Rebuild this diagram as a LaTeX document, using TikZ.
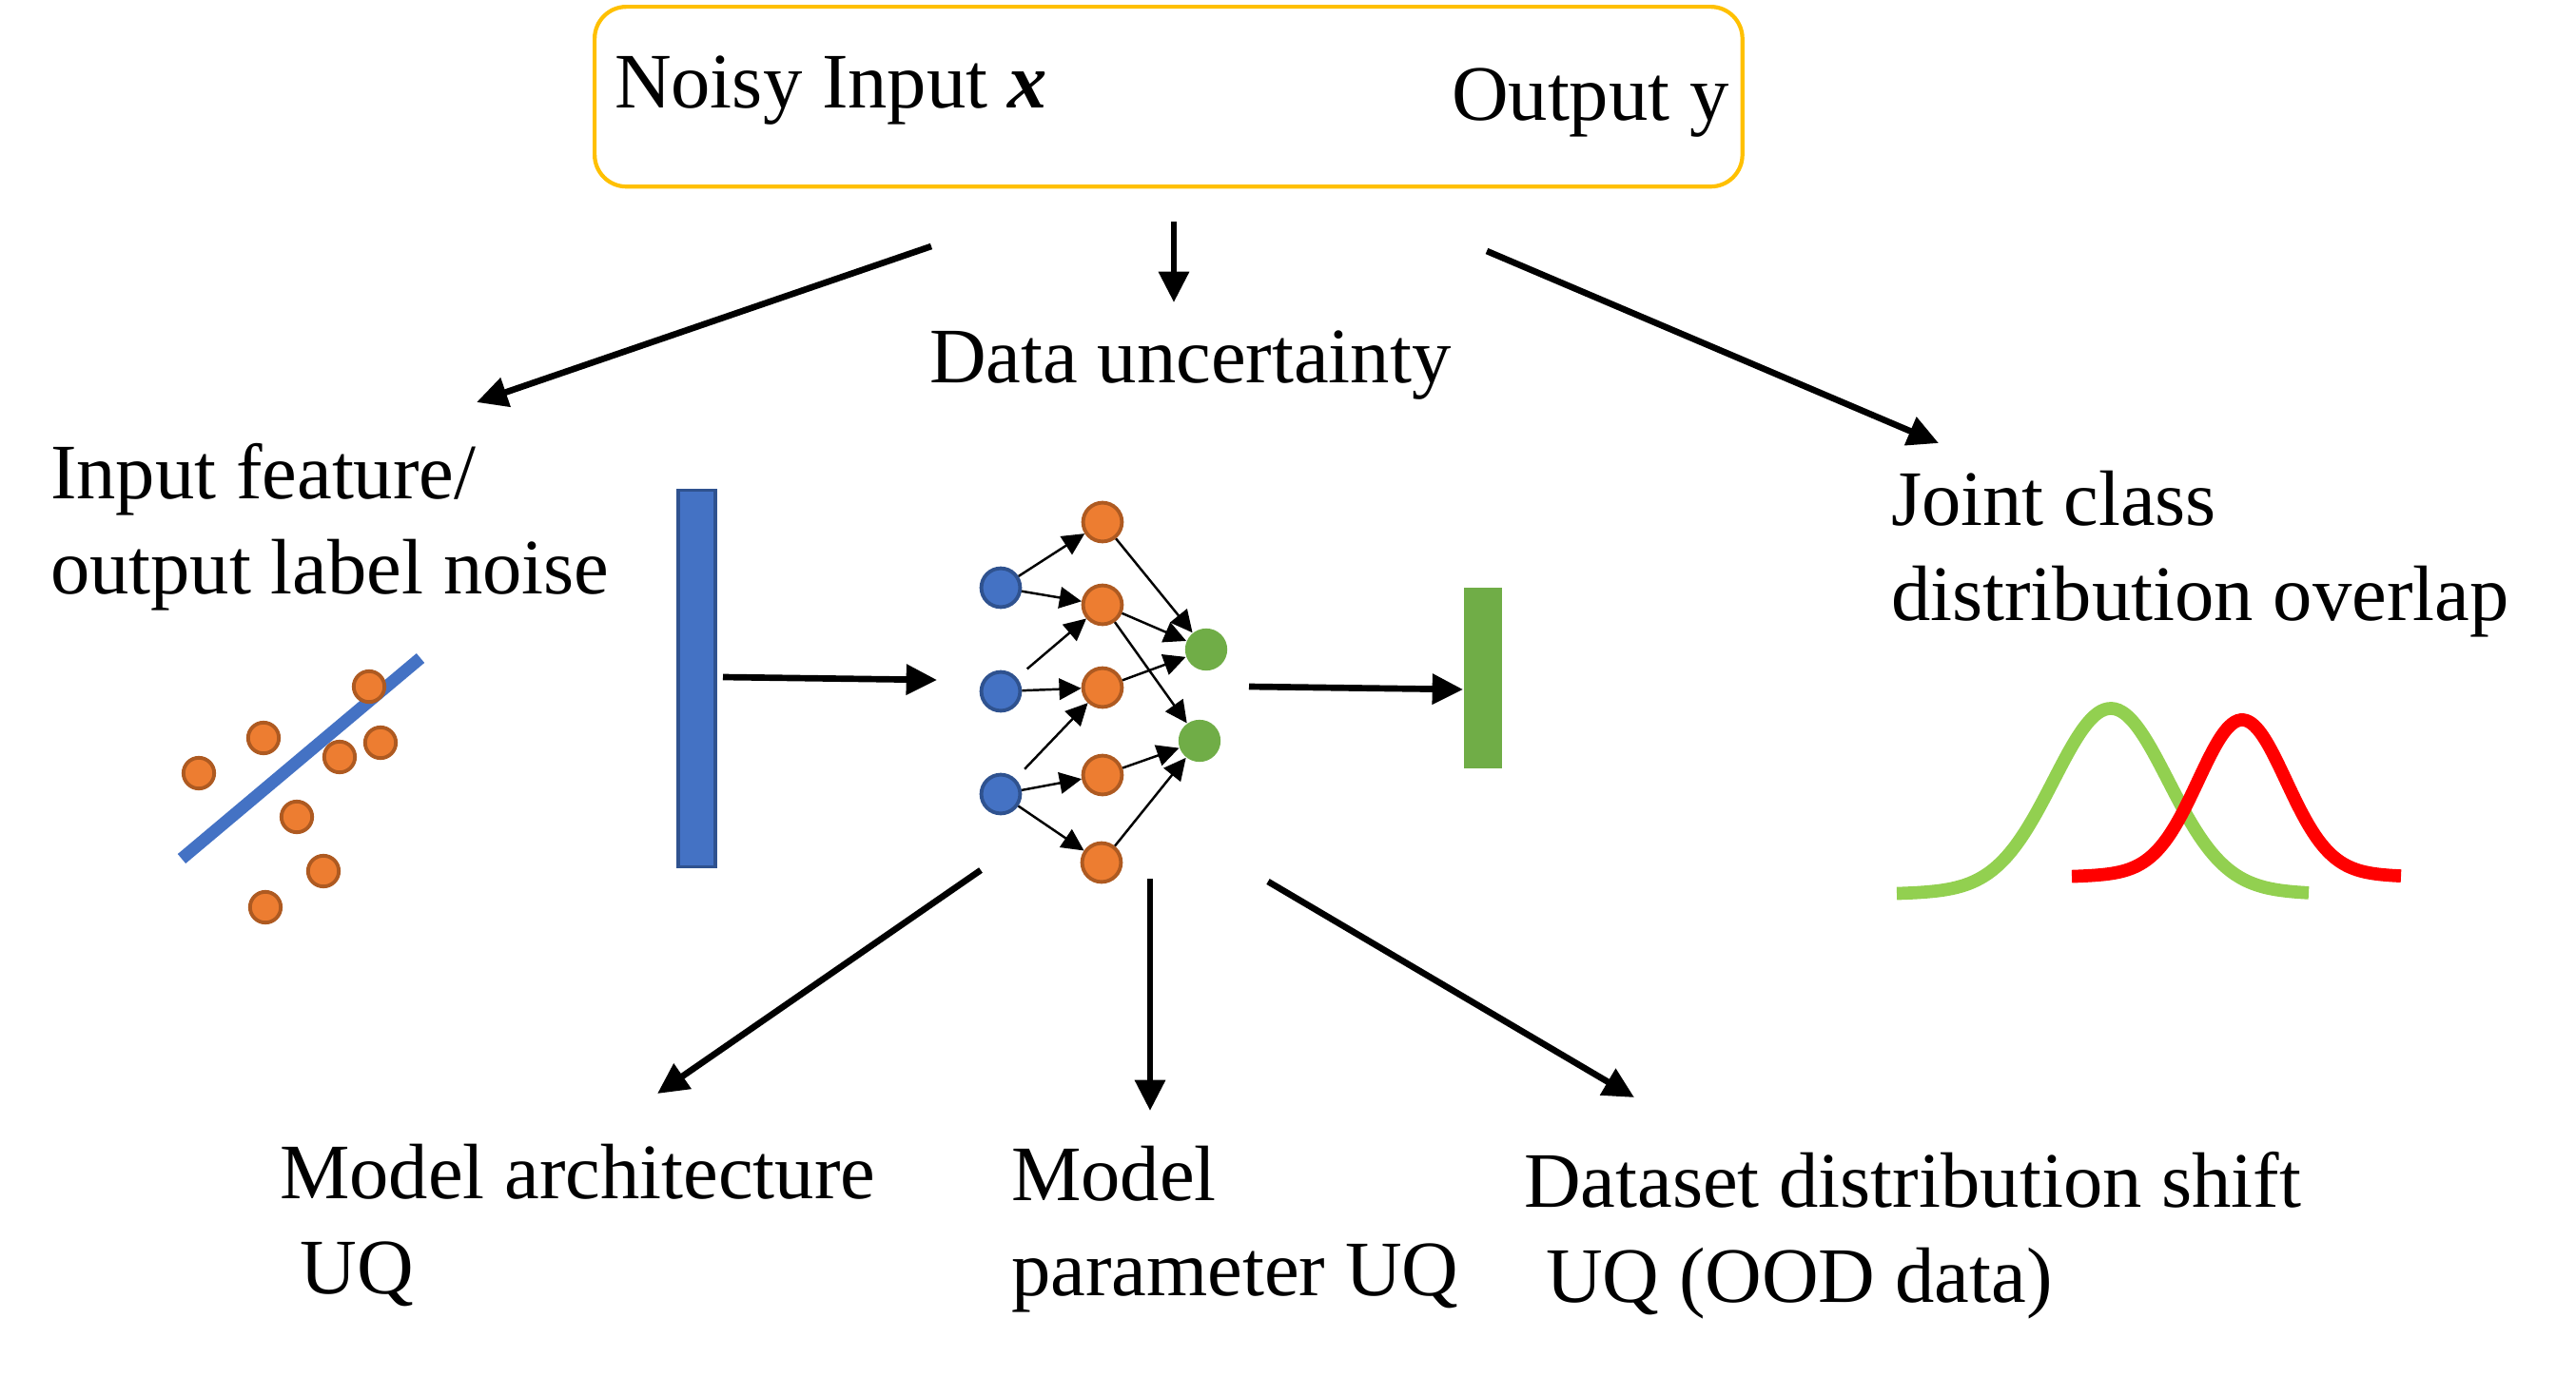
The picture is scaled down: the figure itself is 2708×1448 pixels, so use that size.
\documentclass[tikz,border=0pt]{standalone}
\usepackage{fontspec}
\setmainfont{Liberation Serif}
\usetikzlibrary{arrows.meta}
\definecolor{boxgold}{HTML}{FFC000}
\definecolor{nnblue}{HTML}{4472C4}
\definecolor{nnblueD}{HTML}{2F528F}
\definecolor{nnorange}{HTML}{ED7D31}
\definecolor{nnorangeD}{HTML}{AE5A21}
\definecolor{nngreen}{HTML}{70AD47}
\definecolor{curvegreen}{HTML}{92D050}
\begin{document}
\begin{tikzpicture}[x=0.01cm,y=-0.01cm,
  lbl/.style={anchor=base west, inner sep=0, outer sep=0, font=\fontsize{23.5}{28.2}\selectfont, align=left},
  bigarrow/.style={line width=1.9pt, -{Triangle[length=9.2pt,width=8.8pt]}},
  nnarrow/.style={line width=0.7pt, -{Triangle[length=6.6pt,width=6.4pt]}},
  bneuron/.style={circle, fill=nnblue, draw=nnblueD, line width=1.1pt, minimum size=11.6pt, inner sep=0},
  oneuron/.style={circle, fill=nnorange, draw=nnorangeD, line width=1.1pt, minimum size=11.6pt, inner sep=0},
  gneuron/.style={circle, fill=nngreen, minimum size=12.6pt, inner sep=0},
  dot/.style={circle, fill=nnorange, draw=nnorangeD, line width=1.1pt, minimum size=9.2pt, inner sep=0},
  bar/.style={rectangle, inner sep=0, line width=1pt}
]
\path[use as bounding box] (0,0) rectangle (2708,1448);

% top box
\node[draw=boxgold, line width=1.2pt, rounded corners=9.5pt, minimum width=1206*0.2845pt, minimum height=189*0.2845pt, inner sep=0, anchor=north west] (box) at (623,5) {};
\node[lbl] (noisy) at (646,113) {Noisy Input \textbf{\textit{x}}};
\node[lbl] (outy) at (1526,126) {Output y};

% labels (base anchor = baseline of the last line)
\node[lbl] (datau) at (977,402) {Data uncertainty};
\node[lbl] (inlbl) at (53,624) {Input feature/\\output label noise};
\node[lbl] (joint) at (1988,652) {Joint class\\distribution overlap};
\node[lbl] (march) at (294,1360) {Model architecture\\\hspace*{0.26em}UQ};
\node[lbl] (mparam) at (1063,1362) {Model\\parameter UQ};
\node[lbl] (dshift) at (1602,1369) {Dataset distribution shift\\\hspace*{0.28em}UQ (OOD data)};

% arrow endpoints
\coordinate (a1s) at (979,259);  \coordinate (a1e) at (501,423);
\coordinate (a2s) at (1234,233); \coordinate (a2e) at (1234,318);
\coordinate (a3s) at (1563,264); \coordinate (a3e) at (2038,466);
\coordinate (a4s) at (760,712);  \coordinate (a4e) at (985,715);
\coordinate (a5s) at (1313,722); \coordinate (a5e) at (1538,725);
\coordinate (a6s) at (1031,915); \coordinate (a6e) at (691,1150);
\coordinate (a7s) at (1209,924); \coordinate (a7e) at (1209,1168);
\coordinate (a8s) at (1333,927); \coordinate (a8e) at (1718,1154);

\draw[bigarrow] (a1s) -- (a1e);
\draw[bigarrow] (a2s) -- (a2e);
\draw[bigarrow] (a3s) -- (a3e);
\draw[bigarrow] (a4s) -- (a4e);
\draw[bigarrow] (a5s) -- (a5e);
\draw[bigarrow] (a6s) -- (a6e);
\draw[bigarrow] (a7s) -- (a7e);
\draw[bigarrow] (a8s) -- (a8e);

% bars
\node[bar, fill=nnblue, draw=nnblueD, minimum width=39*0.2845pt, minimum height=396*0.2845pt] (inbar) at (732.5,713.5) {};
\node[bar, fill=nngreen, minimum width=40*0.2845pt, minimum height=190*0.2845pt] (outbar) at (1559,713) {};

% scatter
\draw[nnblue, line width=3.7pt] (191,903) -- (442,692);
\node[dot] (d1) at (388,722) {};
\node[dot] (d2) at (277,776) {};
\node[dot] (d3) at (209,813) {};
\node[dot] (d4) at (357,796) {};
\node[dot] (d5) at (400,781) {};
\node[dot] (d6) at (312,859) {};
\node[dot] (d7) at (340,916) {};
\node[dot] (d8) at (279,954) {};

% network
\node[bneuron] (b1) at (1052,618) {};
\node[bneuron] (b2) at (1052,727) {};
\node[bneuron] (b3) at (1052,835) {};
\node[oneuron] (o1) at (1159,549) {};
\node[oneuron] (o2) at (1159,636) {};
\node[oneuron] (o3) at (1159,723) {};
\node[oneuron] (o4) at (1159,815) {};
\node[oneuron] (o5) at (1158,907) {};
\node[gneuron] (g1) at (1268,683) {};
\node[gneuron] (g2) at (1261,779) {};

\draw[nnarrow] (b1) -- (o1);
\draw[nnarrow] (b1) -- (o2);
\draw[nnarrow, shorten <=4pt] (b2) -- (o2);
\draw[nnarrow] (b2) -- (o3);
\draw[nnarrow, shorten <=4pt] (b3) -- (o3);
\draw[nnarrow] (b3) -- (o4);
\draw[nnarrow] (b3) -- (o5);
\draw[nnarrow] (o1) -- (g1);
\draw[nnarrow] (o2) -- (g1);
\draw[nnarrow] (o2) -- (g2);
\draw[nnarrow] (o3) -- (g1);
\draw[nnarrow] (o4) -- (g2);
\draw[nnarrow] (o5) -- (g2);

% distributions
\draw[curvegreen, line width=3.9pt] plot[domain=1994:2427, samples=120, smooth]
  (\x, {942 - 190*exp(-((\x-2219)/60)^2/2) - 7*exp(-((\x-2219)/150)^2/2)});
\draw[red, line width=3.9pt] plot[domain=2178:2524, samples=120, smooth]
  (\x, {924 - 160*exp(-((\x-2357)/46)^2/2) - 7*exp(-((\x-2357)/120)^2/2)});
\end{tikzpicture}
\end{document}
